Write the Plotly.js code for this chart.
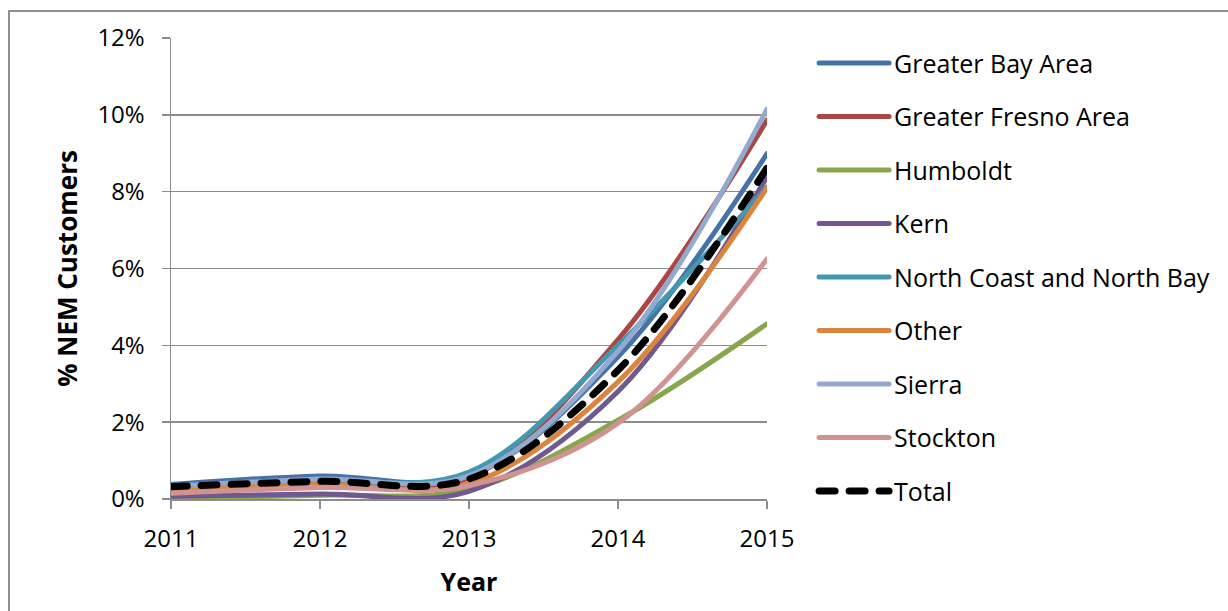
<!DOCTYPE html>
<html>
<head>
<meta charset="utf-8">
<script src="https://cdn.plot.ly/plotly-3.0.1.min.js"></script>
<style>
  html, body { margin: 0; padding: 0; background: #ffffff; }
  #wrap { position: relative; width: 1228px; height: 611px; overflow: hidden; }
  #chart { position: absolute; left: 0; top: 0; width: 1228px; height: 611px; }
  #frame {
    position: absolute; left: 8px; top: 10px; width: 1240px; height: 620px;
    border-left: 2px solid #8f8f8f; border-top: 2px solid #8f8f8f;
    pointer-events: none;
  }
  .scatterlayer path.js-line, .legend path.js-line { stroke-linecap: round; }
</style>
</head>
<body>
<div id="wrap">
  <div id="chart"></div>
  <div id="frame"></div>
</div>
<script>
// Share of customers on net energy metering, by region (percent)
const years = [2011, 2012, 2013, 2014, 2015];

const greaterBayArea     = [0.38, 0.60, 0.60, 3.70, 8.99];
const greaterFresnoArea  = [0.20, 0.35, 0.55, 4.15, 9.86];
const humboldt           = [0.00, 0.10, 0.25, 2.05, 4.56];
const kern               = [0.07, 0.13, 0.20, 2.80, 8.39];
const northCoastNorthBay = [0.30, 0.45, 0.70, 4.00, 8.12];
const other              = [0.22, 0.38, 0.40, 3.05, 8.10];
const sierra             = [0.33, 0.52, 0.60, 3.85, 10.15];
const stockton           = [0.15, 0.30, 0.35, 1.97, 6.25];
const total              = [0.32, 0.46, 0.52, 3.35, 8.62];

const seriesNames = [
  'Greater Bay Area', 'Greater Fresno Area', 'Humboldt', 'Kern',
  'North Coast and North Bay', 'Other', 'Sierra', 'Stockton', 'Total'
];
const seriesValues = [
  greaterBayArea, greaterFresnoArea, humboldt, kern,
  northCoastNorthBay, other, sierra, stockton, total
];
const seriesColors = [
  '#4572A7', '#AA4643', '#89A54E', '#71588F',
  '#4198AF', '#DB843D', '#93A9CF', '#D19392', '#000000'
];

const yTicks = [0, 2, 4, 6, 8, 10, 12];

const FONT = 'Open Sans, Noto Sans, sans-serif';

const traces = seriesNames.map((name, i) => {
  const isTotal = name === 'Total';
  return {
    type: 'scatter',
    mode: 'lines',
    name: name,
    x: years,
    y: seriesValues[i],
    legendgroup: 'g' + i,
    line: {
      color: seriesColors[i],
      width: isTotal ? 7 : 5,
      shape: 'spline',
      smoothing: 1,
      dash: isTotal ? '16px,14px' : 'solid'
    },
    hoverinfo: 'x+y+name'
  };
});

const layout = {
  width: 1228,
  height: 611,
  margin: { l: 171, r: 461, t: 38, b: 111.5, pad: 0, autoexpand: false },
  paper_bgcolor: 'rgba(0,0,0,0)',
  plot_bgcolor: 'rgba(0,0,0,0)',
  font: { family: FONT, color: '#000000', size: 24 },
  showlegend: true,
  legend: {
    x: 1.079, xanchor: 'left',
    y: 0.995, yanchor: 'top',
    font: { family: FONT, size: 25, color: '#000000' },
    itemwidth: 70,
    tracegroupgap: 18,
    maxheight: 600,
    bgcolor: 'rgba(0,0,0,0)'
  },
  xaxis: {
    range: [2011, 2015],
    tickvals: years,
    ticktext: years.map(String),
    ticks: 'outside',
    ticklen: 8,
    tickwidth: 1.5,
    tickcolor: '#8c8c8c',
    showline: true,
    linecolor: '#8c8c8c',
    linewidth: 1.5,
    showgrid: false,
    zeroline: false,
    ticklabelstandoff: 10,
    tickfont: { family: FONT, size: 24, color: '#000000' },
    title: { text: 'Year', font: { family: FONT, size: 25, color: '#000000', weight: 'bold' }, standoff: 20 }
  },
  yaxis: {
    range: [0, 12],
    tickvals: yTicks,
    ticktext: yTicks.map(v => v + '%'),
    ticks: 'outside',
    ticklen: 8,
    tickwidth: 1.5,
    tickcolor: '#8c8c8c',
    showline: true,
    linecolor: '#8c8c8c',
    linewidth: 1.5,
    showgrid: true,
    gridcolor: '#8c8c8c',
    gridwidth: 1.5,
    zeroline: false,
    ticklabelstandoff: 12,
    tickfont: { family: FONT, size: 24, color: '#000000' },
    title: { text: '% NEM Customers', font: { family: FONT, size: 26, color: '#000000', weight: 'bold' }, standoff: 12 }
  }
};

Plotly.newPlot('chart', traces, layout, { displayModeBar: false, staticPlot: true });
</script>
</body>
</html>
